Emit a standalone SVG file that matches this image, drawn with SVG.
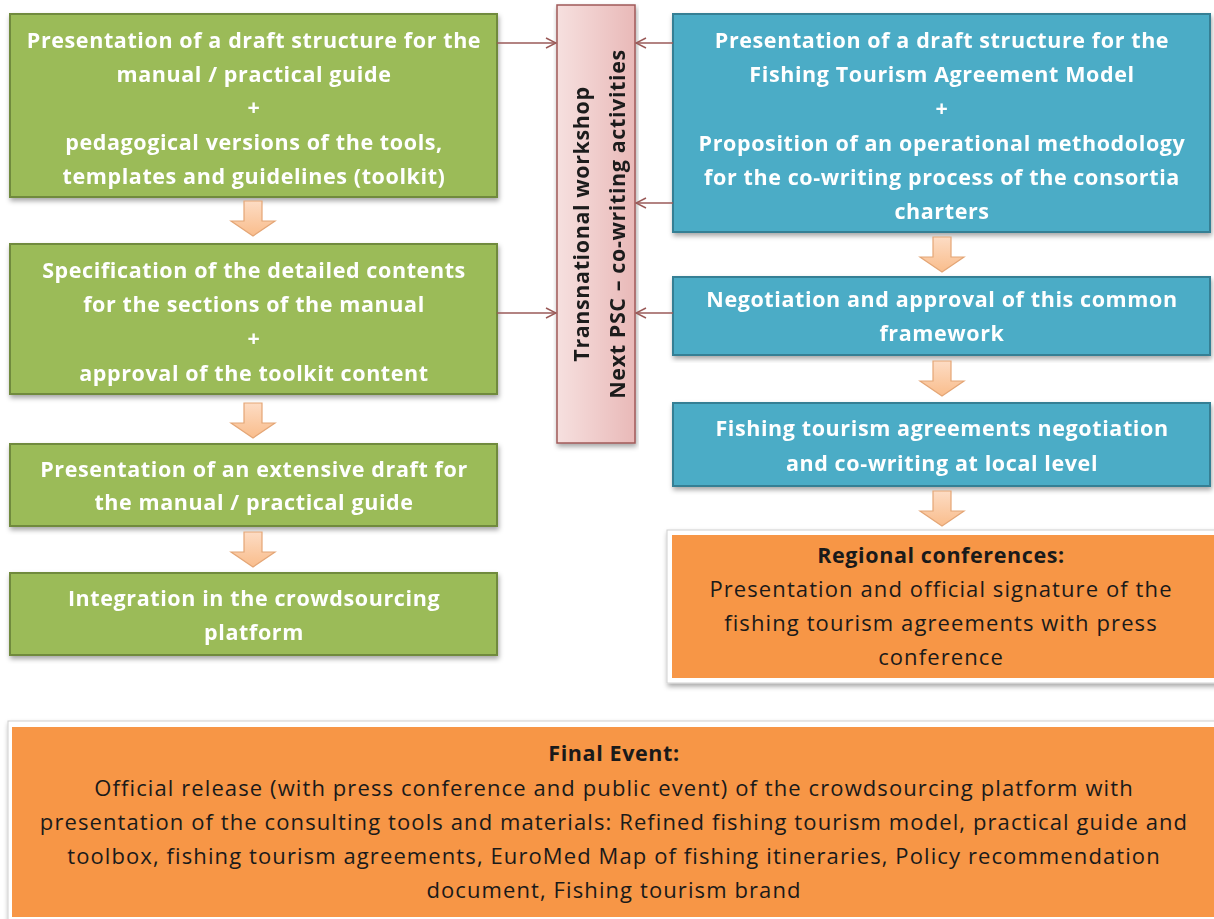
<svg xmlns="http://www.w3.org/2000/svg" width="1214" height="919" viewBox="0 0 1214 919">
  <defs>
    <filter id="shadow" x="-5%" y="-5%" width="110%" height="115%">
      <feDropShadow dx="1" dy="3" stdDeviation="2.5" flood-color="#000" flood-opacity="0.35"/>
    </filter>
    <linearGradient id="pinkGrad" x1="0" y1="0" x2="1" y2="0">
      <stop offset="0" stop-color="#f6e0df"/>
      <stop offset="1" stop-color="#e9b9b8"/>
    </linearGradient>
    <linearGradient id="arrowGrad" x1="0" y1="0" x2="0" y2="1">
      <stop offset="0" stop-color="#fddcc4"/>
      <stop offset="1" stop-color="#f9bd8c"/>
    </linearGradient>
    <marker id="openHead" viewBox="0 0 12 12" refX="11" refY="6" markerWidth="12" markerHeight="12" markerUnits="userSpaceOnUse" orient="auto">
      <path d="M1,1 L11,6 L1,11" fill="none" stroke="#9a5a58" stroke-width="1.5"/>
    </marker>
    <path id="blockArrow" d="M-9,0 H9 V20 H22 L0,35 L-22,20 H-9 Z"/>
  </defs>
  <style>
    .green { fill: #9bbb59; stroke: #6f8a3c; stroke-width: 2; }
    .blue { fill: #4bacc6; stroke: #357f94; stroke-width: 2; }
    .pink { fill: url(#pinkGrad); stroke: #a05a58; stroke-width: 1.5; }
    .orangeFrame { fill: #ffffff; stroke: #d0d0d0; stroke-width: 1; }
    .orange { fill: #f79646; }
    .wt { font-family: "Open Sans", "Liberation Sans", sans-serif; font-weight: bold; font-size: 21.5px; letter-spacing: 0.6px; fill: #ffffff; text-anchor: middle; }
    .bt { font-family: "Open Sans", "Liberation Sans", sans-serif; font-weight: bold; font-size: 21.5px; letter-spacing: 0.6px; fill: #1a1a1a; text-anchor: middle; }
    .nt { font-family: "Open Sans", "Liberation Sans", sans-serif; font-size: 22px; letter-spacing: 1.1px; fill: #1a1a1a; text-anchor: middle; }
    .link { stroke: #9a5a58; stroke-width: 1.5; fill: none; marker-end: url(#openHead); }
    .flow { fill: url(#arrowGrad); stroke: #e4a676; stroke-width: 1.2; }
  </style>

  <!-- Left column: manual / practical guide track -->
  <g id="guide-draft" filter="url(#shadow)">
    <rect class="green" x="10" y="14" width="487" height="183"/>
    <text class="wt" x="254" y="48">Presentation of a draft structure for the</text>
    <text class="wt" x="254" y="82">manual / practical guide</text>
    <text class="wt" x="254" y="115">+</text>
    <text class="wt" x="254" y="150">pedagogical versions of the tools,</text>
    <text class="wt" x="254" y="184">templates and guidelines (toolkit)</text>
  </g>
  <g id="guide-contents" filter="url(#shadow)">
    <rect class="green" x="10" y="244" width="487" height="150"/>
    <text class="wt" x="254" y="278">Specification of the detailed  contents</text>
    <text class="wt" x="254" y="312">for the sections of the manual</text>
    <text class="wt" x="254" y="346">+</text>
    <text class="wt" x="254" y="381">approval of the toolkit content</text>
  </g>
  <g id="guide-extensive" filter="url(#shadow)">
    <rect class="green" x="10" y="444" width="487" height="82"/>
    <text class="wt" x="254" y="477">Presentation of an extensive draft for</text>
    <text class="wt" x="254" y="510">the manual / practical guide</text>
  </g>
  <g id="guide-platform" filter="url(#shadow)">
    <rect class="green" x="10" y="573" width="487" height="82"/>
    <text class="wt" x="254" y="606">Integration in the crowdsourcing</text>
    <text class="wt" x="254" y="640">platform</text>
  </g>

  <!-- Centre: transnational workshop -->
  <g id="workshop" filter="url(#shadow)">
    <rect class="pink" x="557" y="5" width="78" height="438"/>
    <text class="bt" transform="translate(589,224) rotate(-90)">Transnational workshop</text>
    <text class="bt" transform="translate(625,224) rotate(-90)">Next PSC – co-writing activities</text>
  </g>

  <!-- Right column: fishing tourism agreement track -->
  <g id="agreement-draft" filter="url(#shadow)">
    <rect class="blue" x="673" y="14" width="537" height="218"/>
    <text class="wt" x="942" y="48">Presentation of a draft structure for the</text>
    <text class="wt" x="942" y="82">Fishing Tourism Agreement Model</text>
    <text class="wt" x="942" y="116">+</text>
    <text class="wt" x="942" y="151">Proposition of an operational methodology</text>
    <text class="wt" x="942" y="185">for the co-writing process of the consortia</text>
    <text class="wt" x="942" y="219">charters</text>
  </g>
  <g id="agreement-framework" filter="url(#shadow)">
    <rect class="blue" x="673" y="277" width="537" height="78"/>
    <text class="wt" x="942" y="307">Negotiation and approval of this common</text>
    <text class="wt" x="942" y="341">framework</text>
  </g>
  <g id="agreement-local" filter="url(#shadow)">
    <rect class="blue" x="673" y="403" width="537" height="83"/>
    <text class="wt" x="942" y="436">Fishing tourism agreements negotiation</text>
    <text class="wt" x="942" y="471">and co-writing at local level</text>
  </g>
  <g id="regional-conferences">
    <rect class="orangeFrame" x="667" y="530" width="552" height="153" filter="url(#shadow)"/>
    <rect class="orange" x="672" y="535" width="542" height="143"/>
    <text class="bt" x="941" y="563">Regional conferences:</text>
    <text class="nt" x="941" y="597">Presentation and  official signature of the</text>
    <text class="nt" x="941" y="631">fishing tourism agreements with press</text>
    <text class="nt" x="941" y="665">conference</text>
  </g>

  <!-- Bottom: final event -->
  <g id="final-event">
    <rect class="orangeFrame" x="8" y="721" width="1211" height="205" filter="url(#shadow)"/>
    <rect class="orange" x="12" y="727" width="1202" height="190"/>
    <text class="bt" x="614" y="761">Final Event:</text>
    <text class="nt" x="614" y="796">Official release (with press conference and public event) of the crowdsourcing platform with</text>
    <text class="nt" x="614" y="830">presentation of the consulting tools and materials: Refined fishing tourism model, practical guide and</text>
    <text class="nt" x="614" y="864">toolbox, fishing tourism agreements, EuroMed Map of fishing itineraries, Policy recommendation</text>
    <text class="nt" x="614" y="898">document, Fishing tourism brand</text>
  </g>

  <!-- Connectors -->
  <g id="connectors">
    <line class="link" x1="497" y1="43" x2="556" y2="43"/>
    <line class="link" x1="497" y1="313" x2="556" y2="313"/>
    <line class="link" x1="673" y1="43" x2="636" y2="43"/>
    <line class="link" x1="673" y1="203" x2="636" y2="203"/>
    <line class="link" x1="673" y1="313" x2="636" y2="313"/>
    <use href="#blockArrow" class="flow" transform="translate(253,201)"/>
    <use href="#blockArrow" class="flow" transform="translate(253,403)"/>
    <use href="#blockArrow" class="flow" transform="translate(253,532)"/>
    <use href="#blockArrow" class="flow" transform="translate(942,237)"/>
    <use href="#blockArrow" class="flow" transform="translate(942,361)"/>
    <use href="#blockArrow" class="flow" transform="translate(942,491)"/>
  </g>
</svg>
